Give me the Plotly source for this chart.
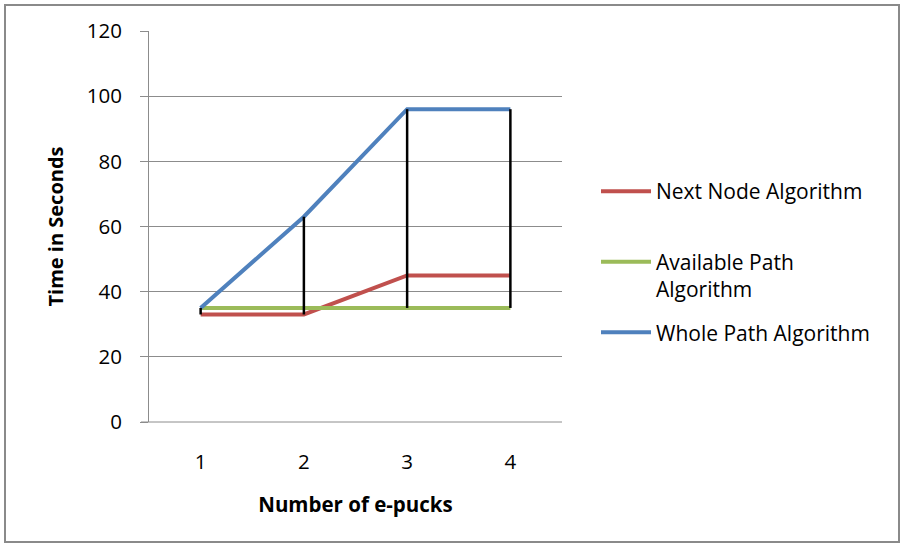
import plotly.graph_objects as go

categories = [1, 2, 3, 4]
next_node = [33, 33, 45, 45]
available_path = [35, 35, 35, 35]
whole_path = [35, 63, 96, 96]
series_names = ["Next Node Algorithm<br> ", "Available Path<br>Algorithm", "Whole Path Algorithm"]
series_colors = ["#C0504D", "#9BBB59", "#4F81BD"]
y_ticks = [0, 20, 40, 60, 80, 100, 120]

FONT = "'Open Sans', 'Liberation Sans', sans-serif"

fig = go.Figure()
for i, (vals, name, col) in enumerate(zip([next_node, available_path, whole_path], series_names, series_colors)):
    fig.add_trace(go.Scatter(
        x=categories, y=vals, mode="lines", name=name,
        line=dict(color=col, width=4), legendgroup=f"g{i}",
    ))

# high-low lines
hx, hy = [], []
for j, c in enumerate(categories):
    vals = [next_node[j], available_path[j], whole_path[j]]
    hx += [c, c, None]
    hy += [min(vals), max(vals), None]
fig.add_trace(go.Scatter(x=hx, y=hy, mode="lines", line=dict(color="black", width=2.5),
                         showlegend=False, hoverinfo="skip"))

W, H = 904, 546
L, R, T, B = 149, 562, 31, 422
pw, ph = R - L, B - T

def px(x):
    return (x - L) / pw

def py(y):
    return (B - y) / ph

fig.update_layout(
    width=W, height=H,
    margin=dict(l=L, r=W - R, t=T, b=H - B),
    paper_bgcolor="white", plot_bgcolor="white",
    font=dict(family=FONT, size=20, color="#000000"),
    showlegend=True,
    legend=dict(
        x=px(596), y=py(171), xanchor="left", yanchor="top",
        traceorder="grouped", tracegroupgap=13, valign="top",
        font=dict(family=FONT, size=21, color="#000000"),
        itemwidth=50, bgcolor="rgba(0,0,0,0)",
    ),
    xaxis=dict(
        range=[0.5, 4.5], tickvals=categories, ticktext=[str(c) for c in categories],
        showgrid=False, zeroline=False, showline=False, ticks="",
        ticklabelstandoff=25, tickfont=dict(size=20.5),
        title=dict(text="<b>Number of e-pucks</b>", standoff=24, font=dict(size=20.5)),
    ),
    yaxis=dict(
        range=[0, 120], tickvals=y_ticks, showgrid=True, gridcolor="#8C8C8C", gridwidth=1,
        zeroline=False, showline=True, linecolor="#8C8C8C", linewidth=1,
        ticks="outside", ticklen=8, tickcolor="#8C8C8C", ticklabelstandoff=14,
        tickfont=dict(size=20.5),
        title=dict(text="<b>Time in Seconds</b>", standoff=17, font=dict(size=20)),
    ),
    shapes=[
        dict(type="rect", xref="paper", yref="paper",
             x0=px(5), x1=px(899), y0=py(542), y1=py(5),
             line=dict(color="#8A8A8A", width=2), layer="below"),
        dict(type="line", xref="paper", yref="paper",
             x0=px(141), x1=1, y0=0, y1=0,
             line=dict(color="#8C8C8C", width=1)),
    ],
)

fig.write_html("out.html")
